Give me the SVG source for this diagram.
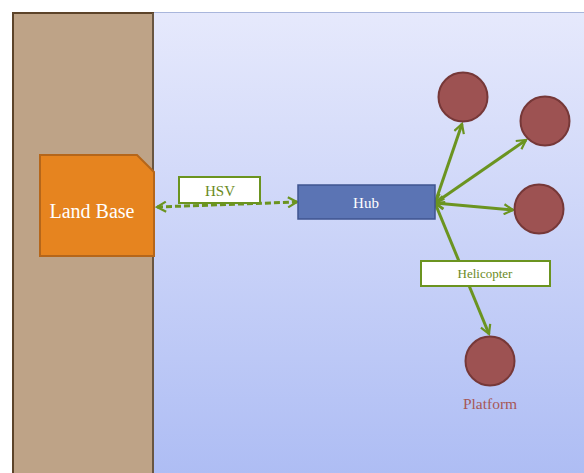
<svg xmlns="http://www.w3.org/2000/svg" width="584" height="473" viewBox="0 0 584 473">
<style>
.lbl{fill:#fff;stroke:#6b9420;stroke-width:2}
.gt{font-family:"Liberation Serif",serif;fill:#6b8a1e;text-anchor:middle}
.wt{font-family:"Liberation Serif",serif;fill:#fff;text-anchor:middle}
.plat{fill:#9d5252;stroke:#763838;stroke-width:2}
.con{stroke:#6b9420;stroke-width:3;fill:none;marker-start:url(#ah);marker-end:url(#ah)}
</style>
<defs>
<linearGradient id="sea" x1="0" y1="0" x2="0" y2="1">
<stop offset="0" stop-color="#e6e9fc"/>
<stop offset="1" stop-color="#aebdf4"/>
</linearGradient>
<marker id="ah" viewBox="0 0 12 12" refX="10" refY="6" markerWidth="4" markerHeight="4" orient="auto-start-reverse" markerUnits="strokeWidth">
<polyline points="1,1 10,6 1,11" fill="none" stroke="#6b9420" stroke-width="2.2"/>
</marker>
</defs>
<rect x="153" y="12" width="432" height="462" fill="url(#sea)"/>
<line x1="153" y1="12.5" x2="584" y2="12.5" stroke="#a9b6dc" stroke-width="1"/>
<rect id="land" x="13" y="13" width="140" height="462" fill="#bea387" stroke="#5c4329" stroke-width="2"/>
<line x1="153" y1="13" x2="153" y2="473" stroke="#6e5c4a" stroke-width="1.5"/>
<g id="connectors">
<line class="con" x1="157" y1="207" x2="297" y2="202" stroke-dasharray="6,3"/>
<line class="con" x1="435" y1="203" x2="462" y2="124"/>
<line class="con" x1="435" y1="203" x2="526" y2="140"/>
<line class="con" x1="435" y1="203" x2="513" y2="210"/>
<line class="con" x1="435" y1="203" x2="489" y2="334"/>
</g>
<g id="landbase">
<path d="M40,155 H137 L154,172 V256 H40 Z" fill="#e6841f" stroke="#b5661a" stroke-width="2"/>
<text class="wt" x="92" y="218" font-size="20">Land Base</text>
</g>
<g id="hsv">
<rect class="lbl" x="179" y="177" width="81" height="26"/>
<text class="gt" x="220" y="196" font-size="15">HSV</text>
</g>
<g id="hub">
<rect x="298" y="185" width="137" height="34" fill="#5b74b4" stroke="#3f5490" stroke-width="1.5"/>
<text class="wt" x="366" y="208" font-size="15">Hub</text>
</g>
<g id="p1"><circle class="plat" cx="463" cy="97" r="24.5"/></g>
<g id="p2"><circle class="plat" cx="545" cy="121" r="24.5"/></g>
<g id="p3"><circle class="plat" cx="539" cy="209" r="24.5"/></g>
<g id="helicopter">
<rect class="lbl" x="421" y="261" width="129" height="25"/>
<text class="gt" x="485" y="278" font-size="13">Helicopter</text>
</g>
<g id="p4">
<circle class="plat" cx="490" cy="361" r="24.5"/>
<text x="490" y="409" font-family="Liberation Serif, serif" font-size="15.5" fill="#a65757" text-anchor="middle">Platform</text>
</g>
</svg>
